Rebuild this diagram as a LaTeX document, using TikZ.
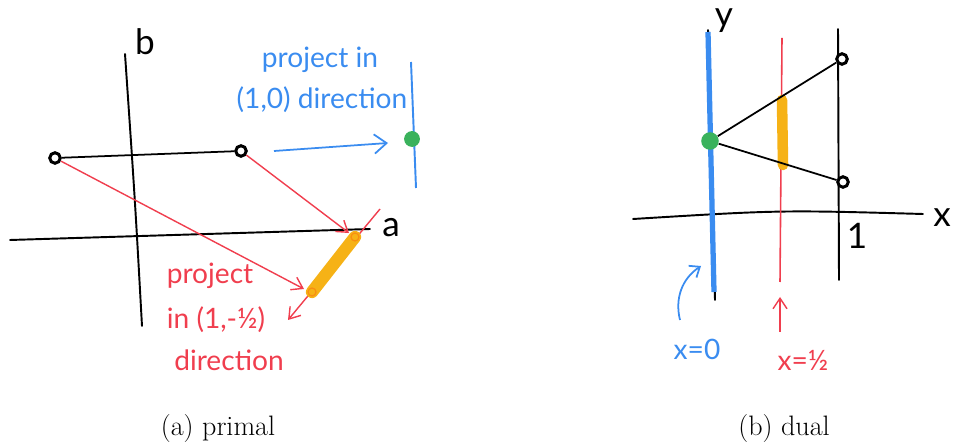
\documentclass[tikz,border=0pt]{standalone}
\usepackage{fontspec}
\newfontfamily\handfont{Lato}
\usepackage{tikz}
\usetikzlibrary{arrows.meta}
\definecolor{penblue}{RGB}{58,140,240}
\definecolor{penred}{RGB}{240,62,78}
\definecolor{penorange}{RGB}{246,178,22}
\definecolor{pengreen}{RGB}{58,178,92}

\begin{document}
\begin{tikzpicture}[
    x=0.02cm, y=-0.02cm,
    axis/.style={line width=1.1pt,black,line cap=round},
    seg/.style={line width=1pt,black},
    pt/.style={circle,draw=black,fill=white,line width=1.7pt,inner sep=0pt,minimum size=6pt},
    dot/.style={circle,fill=pengreen,inner sep=0pt,minimum size=10pt},
    redarrow/.style={-{Straight Barb[length=6pt,width=8pt]},penred,line width=0.8pt},
    bluearrow/.style={-{Straight Barb[length=7pt,width=11pt]},penblue,line width=1pt},
    hand/.style={font=\handfont\fontsize{16}{19}\selectfont,align=center},
    axlabel/.style={font=\handfont\fontsize{20}{22}\selectfont},
    caption/.style={font=\fontsize{16}{19}\selectfont},
]
\useasboundingbox (0,0) rectangle (953,445);

% (a) primal
\coordinate (bbot) at (142,326);
\coordinate (btop) at (125,54);
\coordinate (aleft) at (10,240);
\coordinate (aright) at (370,229);
\draw[axis] (bbot) .. controls (135,200) .. (btop);
\draw[axis] (aleft) -- (aright);
\node[axlabel] (lblb) at (145,42) {b};
\node[axlabel] (lbla) at (391,228) {a};

\coordinate (bltop) at (411,62);
\coordinate (blbot) at (416,188);
\draw[penblue,line width=1.1pt] (bltop) -- (blbot);
\node[dot,minimum size=9pt] (g1) at (412,139) {};

\node[pt] (p1) at (55,158) {};
\node[pt] (p2) at (241,151) {};
\draw[seg] (p1) -- (p2);

\coordinate (o1) at (355,237);
\coordinate (o2) at (312,292);
\coordinate (rtop) at (380,209);
\coordinate (rbot) at (288,320);
\draw[redarrow] (rtop) -- (rbot);
\draw[penorange,line width=7pt,line cap=round] (o1) -- (o2);
\draw[penorange!80!red,line width=0.7pt] (o1) circle (4) (o2) circle (4);

\draw[redarrow] (p2) -- ([shift={(-6,-4)}]o1);
\draw[redarrow] (p1) -- ([shift={(-8,-3)}]o2);

\coordinate (ba1) at (274,151);
\coordinate (ba2) at (388,143);
\draw[bluearrow] (ba1) -- (ba2);

\node[hand,text=penblue] (tblue1) at (320,60) {project in};
\node[hand,text=penblue] (tblue2) at (322,100) {(1,0) direction};
\node[hand,text=penred] (tred1) at (210,276) {project};
\node[hand,text=penred] (tred2) at (216,320) {in (1,-½)};
\node[hand,text=penred] (tred3) at (229,360) {direction};

\node[caption] (capa) at (218,428) {(a) primal};

% (b) dual
\coordinate (xleft) at (633,219);
\coordinate (xright) at (923,214);
\draw[axis] (xleft) .. controls (780,210) .. (xright);
\node[axlabel] (lblx) at (942,218) {x};

\coordinate (ytop) at (708,30);
\coordinate (ybot) at (715,300);
\draw[axis] (ytop) -- (ybot);
\draw[penblue,line width=3pt] (708,32) -- (714,292);
\node[axlabel] (lbly) at (724,21) {y};

\coordinate (one_top) at (838,29);
\coordinate (one_bot) at (839,280);
\draw[axis] (one_top) -- (one_bot);
\node[axlabel] (lbl1) at (857,236) {1};

\coordinate (half_top) at (782,38);
\coordinate (half_bot) at (780,282);
\draw[penred,line width=0.9pt] (half_top) -- (half_bot);
\draw[penorange,line width=6pt,line cap=round] (782,100) -- (783,165);

\node[pt] (q1) at (842,59) {};
\node[pt] (q2) at (843,182) {};
\node[dot] (g2) at (710,141) {};
\draw[seg] (g2) -- (q1);
\draw[seg] (g2) -- (q2);

\node[hand,text=penblue] (tx0) at (697,349) {x=0};
\node[hand,text=penred] (txhalf) at (803,360) {x=½};
\coordinate (c1) at (680,320);
\coordinate (c2) at (701,266);
\draw[bluearrow,-{Straight Barb[length=5pt,width=8pt]}] (c1) to[bend left=35] (c2);
\coordinate (c3) at (780,332);
\coordinate (c4) at (780,297);
\draw[redarrow] (c3) -- (c4);

\node[caption] (capb) at (784,428) {(b) dual};
\end{tikzpicture}
\end{document}
